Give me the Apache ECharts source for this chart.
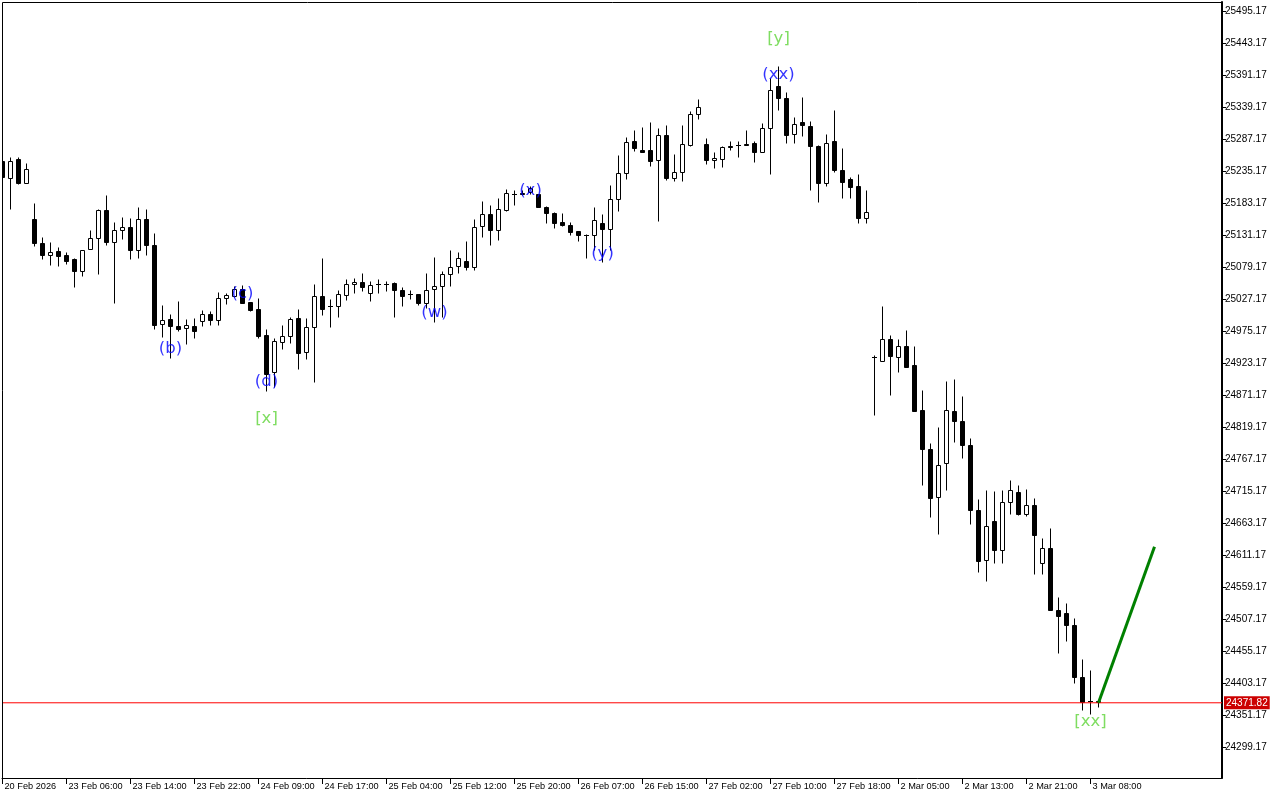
<!DOCTYPE html>
<html><head><meta charset="utf-8">
<script src="https://cdn.jsdelivr.net/npm/echarts@6/dist/echarts.min.js"></script>
<style>html,body{margin:0;padding:0;background:#fff}#c{width:1280px;height:800px}</style>
</head><body><div id="c"></div>
<script>
// ---- data (hourly candles, index 0 = first visible bar) ----
const opens = [25251.1,25224.1,25253.9,25216.0,25156.4,25118.5,25098.3,25104.4,25097.9,25091.4,
25072.3,25108.7,25126.6,25172.6,25120.1,25139.6,25144.5,25107.6,25156.4,25115.7,
24986.9,24993.9,24983.0,24980.4,24982.5,24992.2,25003.1,24993.4,25028.0,25031.7,
25044.2,25022.0,25011.7,24967.9,24908.2,24957.6,24967.4,24997.1,24941.4,24982.0,
25032.4,25015.5,25015.0,25033.3,25051.9,25055.1,25037.3,25051.9,25051.9,25052.4,
25042.6,25034.5,25034.5,25021.0,25043.7,25049.1,25068.1,25080.5,25089.7,25079.5,
25145.5,25166.1,25139.0,25171.5,25198.6,25199.8,25200.7,25197.0,25177.0,25167.2,
25152.0,25148.2,25136.9,25130.9,25131.5,25151.2,25141.2,25190.0,25232.3,25284.7,
25270.1,25268.5,25253.4,25294.0,25224.1,25233.9,25277.1,25328.1,25279.4,25253.4,
25255.0,25276.6,25277.1,25279.4,25279.9,25266.4,25305.4,25374.1,25354.1,25295.6,
25314.5,25309.1,25276.6,25215.3,25283.6,25236.0,25221.4,25210.0,25159.1,24932.6,
24926.1,24961.4,24933.2,24951.6,24920.7,24846.0,24784.2,24705.7,24759.9,24844.4,
24829.7,24790.7,24683.5,24602.7,24666.1,24620.1,24697.0,24713.9,24678.1,24693.2,
24598.5,24622.9,24522.6,24517.2,24497.1,24413.3,24374.7,24373.5];
const highs = [25257.1,25258.2,25257.6,25247.4,25182.4,25128.7,25119.0,25110.9,25103.9,25093.0,
25107.6,25138.5,25174.2,25195.4,25152.0,25161.2,25159.6,25175.9,25173.1,25135.2,
25018.2,25003.6,25024.7,24993.9,24997.1,25008.5,25007.4,25038.9,25037.3,25049.1,
25050.7,25023.1,25029.1,24978.7,24963.0,24985.7,24997.6,25011.2,24997.1,25051.9,
25093.0,25027.7,25042.6,25060.0,25061.6,25069.7,25056.1,25060.0,25056.1,25054.5,
25046.4,25042.6,25035.6,25069.7,25096.2,25071.9,25107.6,25103.5,25121.1,25157.5,
25187.2,25180.7,25191.6,25206.7,25205.1,25205.1,25210.5,25198.6,25177.5,25168.2,
25167.2,25152.6,25137.4,25132.0,25175.9,25166.1,25213.2,25260.4,25290.7,25301.0,
25307.0,25314.5,25305.4,25310.3,25263.1,25309.6,25332.3,25351.4,25289.1,25266.4,
25276.6,25283.6,25284.7,25301.5,25283.6,25312.4,25386.6,25405.5,25363.2,25323.3,
25355.1,25317.2,25278.2,25294.5,25333.5,25272.9,25225.1,25231.1,25203.5,24935.4,
25016.6,24968.4,24962.5,24977.6,24951.6,24880.1,24792.4,24818.8,24893.6,24896.4,
24869.2,24800.5,24701.4,24717.6,24714.8,24717.6,24732.7,24725.7,24719.2,24703.0,
24639.1,24655.4,24542.6,24532.4,24508.0,24441.4,24425.1,24374.0];
const lows = [25221.4,25173.8,25214.4,25216.0,25114.1,25091.4,25083.2,25081.6,25083.7,25046.4,
25064.2,25108.7,25067.0,25115.7,25019.9,25123.9,25091.4,25093.5,25097.9,24979.2,
24966.2,24932.1,24974.8,24954.4,24963.0,24983.0,24984.6,24984.6,25019.4,25030.0,
25019.9,25007.4,24963.0,24877.3,24883.4,24946.2,24954.9,24913.7,24930.0,24892.8,
25001.7,24981.3,24998.4,25025.2,25037.3,25039.9,25023.6,25037.3,25039.9,24997.6,
25015.5,25026.4,25018.2,25012.9,24989.5,24998.7,25048.0,25069.7,25074.0,25074.0,
25127.6,25115.7,25122.7,25169.9,25180.0,25195.4,25197.0,25175.9,25151.0,25142.9,
25146.6,25130.4,25122.2,25094.1,25107.6,25088.1,25107.6,25169.9,25222.5,25267.3,
25266.4,25244.1,25153.6,25220.2,25218.6,25218.6,25276.6,25318.9,25246.9,25240.4,
25241.4,25270.1,25257.6,25277.1,25249.5,25266.4,25229.5,25334.0,25281.0,25281.0,
25291.7,25204.0,25184.5,25211.6,25233.2,25190.5,25191.6,25151.0,25149.9,24837.9,
24926.1,24870.4,24908.2,24916.3,24844.4,24725.7,24672.6,24645.6,24717.6,24794.5,
24769.1,24661.9,24583.2,24568.6,24597.4,24597.4,24678.1,24675.4,24674.2,24581.1,
24580.6,24521.0,24452.2,24472.2,24403.5,24359.0,24353.1,24364.5];
const closes = [25225.1,25252.2,25214.9,25238.7,25117.4,25098.3,25103.9,25096.7,25088.6,25072.3,
25107.6,25126.6,25172.6,25119.5,25140.1,25144.5,25106.5,25156.4,25115.7,24985.7,
24993.4,24983.0,24978.7,24984.6,24974.8,25003.1,24993.4,25028.0,25032.9,25044.2,
25021.0,25010.1,24966.7,24904.5,24959.7,24966.7,24995.0,24939.7,24982.0,25032.4,
25011.2,25015.5,25035.6,25051.9,25055.1,25046.4,25049.6,25051.9,25051.9,25041.5,
25031.7,25034.5,25019.9,25041.0,25049.1,25068.6,25079.5,25094.1,25079.2,25144.5,
25164.5,25139.0,25173.8,25199.8,25198.6,25197.5,25207.9,25177.0,25167.2,25151.0,
25148.2,25136.4,25130.4,25130.9,25155.5,25141.2,25190.0,25232.3,25282.6,25272.9,
25266.4,25251.1,25294.0,25224.1,25233.9,25279.4,25328.6,25339.5,25253.4,25256.6,
25274.5,25273.8,25277.1,25277.1,25265.7,25305.4,25366.0,25353.8,25293.3,25311.9,
25310.3,25275.5,25215.3,25281.0,25236.0,25217.0,25208.9,25158.5,25168.9,24932.6,
24961.4,24934.2,24951.6,24916.3,24844.8,24783.7,24704.1,24758.2,24846.0,24828.6,
24789.6,24684.0,24601.1,24659.1,24620.1,24697.6,24716.0,24677.0,24693.2,24643.3,
24622.9,24521.5,24511.6,24497.1,24412.6,24372.6,24374.7,24371.8];

const timeLabels = ['20 Feb 2026','23 Feb 06:00','23 Feb 14:00','23 Feb 22:00','24 Feb 09:00',
'24 Feb 17:00','25 Feb 04:00','25 Feb 12:00','25 Feb 20:00','26 Feb 07:00','26 Feb 15:00',
'27 Feb 02:00','27 Feb 10:00','27 Feb 18:00','2 Mar 05:00','2 Mar 13:00','2 Mar 21:00','3 Mar 08:00'];
const barsPerLabel = 8;
const priceTicks = [24299.17,24351.17,24403.17,24455.17,24507.17,24559.17,24611.17,24663.17,
24715.17,24767.17,24819.17,24871.17,24923.17,24975.17,25027.17,25079.17,25131.17,25183.17,
25235.17,25287.17,25339.17,25391.17,25443.17,25495.17];
const lastPrice = 24371.82;
const projectionIdx = [137, 144];
const projectionPrice = [24371.82, 24625.5];
const waveText = ['(b)','(c)','(d)','(w)','(x)','(y)','(xx)'];
const waveIdx = [21, 30, 33, 54, 66, 75, 97];
const wavePrice = [24946.7, 25036.1, 24893.1, 25005.2, 25203.5, 25101.1, 25392.0];
const degreeText = ['[x]','[y]','[xx]'];
const degreeIdx = [33, 97, 136];
const degreePrice = [24833.0, 25450.5, 24340.6];

// ---- chart ----
const X_MIN = -0.0625, X_MAX = 152.4375;
const candleData = opens.map((o, i) => [i, o, highs[i], lows[i], closes[i]]);
const labelPositions = timeLabels.map((t, k) => k * barsPerLabel);
const FONT = 'Liberation Sans';
const LABEL_FONT = 'DejaVu Sans';

const chart = echarts.init(document.getElementById('c'), null, {renderer: 'canvas'});
chart.setOption({
  animation: false,
  backgroundColor: '#ffffff',
  grid: {left: 2, right: 58, top: 2, bottom: 22, show: false, containLabel: false},
  xAxis: {
    type: 'value', min: X_MIN, max: X_MAX,
    axisLine: {show: true, onZero: false, lineStyle: {color: '#000', width: 1}},
    splitLine: {show: false},
    axisTick: {show: true, inside: false, customValues: labelPositions, length: 6, lineStyle: {color: '#000'}},
    axisLabel: {
      customValues: labelPositions, align: 'left', margin: 4, padding: [0, 0, 0, 2],
      color: '#000', fontSize: 9.2, fontFamily: FONT,
      formatter: v => timeLabels[Math.round(v / barsPerLabel)] || ''
    }
  },
  yAxis: {
    type: 'value', position: 'right', min: 24249.61, max: 25510.61, scale: true,
    axisLine: {show: true, onZero: false, lineStyle: {color: '#000', width: 2}},
    splitLine: {show: false},
    axisTick: {show: true, inside: false, customValues: priceTicks, length: 4, lineStyle: {color: '#000'}},
    axisLabel: {customValues: priceTicks, margin: 3, color: '#000', fontSize: 10, fontFamily: FONT,
      formatter: v => v.toFixed(2)}
  },
  graphic: [
    {type: 'line', shape: {x1: 2.5, y1: 2.5, x2: 1222, y2: 2.5}, style: {stroke: '#000', lineWidth: 1}, z: 100},
    {type: 'line', shape: {x1: 2.5, y1: 2.5, x2: 2.5, y2: 778}, style: {stroke: '#000', lineWidth: 1}, z: 100}
  ],
  series: [
    {
      type: 'custom', data: candleData, clip: true,
      encode: {x: 0, y: [1, 2, 3, 4]},
      renderItem: function (params, api) {
        const i = api.value(0), o = api.value(1), h = api.value(2), l = api.value(3), c = api.value(4);
        const pO = api.coord([i, o]), pC = api.coord([i, c]), pH = api.coord([i, h]), pL = api.coord([i, l]);
        const snap = v => Math.round(v - 0.5) + 0.5;
        const cx = snap(pO[0]);
        const yH = snap(pH[1]), yL = snap(pL[1]), yO = snap(pO[1]), yC = snap(pC[1]);
        const ch = [{type: 'line', shape: {x1: cx, y1: yH, x2: cx, y2: yL}, style: {stroke: '#000', lineWidth: 1}}];
        const top = Math.min(yO, yC), bot = Math.max(yO, yC);
        if (bot - top < 1) {
          ch.push({type: 'line', shape: {x1: cx - 2.5, y1: top, x2: cx + 2.5, y2: top}, style: {stroke: '#000', lineWidth: 1}});
        } else {
          ch.push({type: 'rect', shape: {x: cx - 2, y: top, width: 4, height: bot - top},
            style: {fill: c > o ? '#ffffff' : '#000000', stroke: '#000', lineWidth: 1}});
        }
        return {type: 'group', children: ch};
      },
      z: 2
    },
    {
      type: 'line', data: [[X_MIN, lastPrice], [X_MAX, lastPrice]],
      symbol: 'none', lineStyle: {color: '#ff0000', width: 1}, z: 3, silent: true,
      markPoint: {
        silent: true, symbol: 'rect', symbolSize: 0,
        data: [{coord: [X_MAX, lastPrice]}],
        label: {show: true, position: 'right', distance: 2, formatter: lastPrice.toFixed(2),
          backgroundColor: '#cc0000', color: '#fff', padding: [2, 2, 1, 2], fontSize: 10, fontFamily: FONT}
      }
    },
    {
      type: 'line', data: projectionIdx.map((x, k) => [x, projectionPrice[k]]),
      symbol: 'none', lineStyle: {color: '#008000', width: 3}, z: 5
    },
    {
      type: 'scatter', symbolSize: 1, itemStyle: {color: 'rgba(0,0,0,0)'}, z: 6,
      data: waveIdx.map((x, k) => [x, wavePrice[k], waveText[k]]),
      label: {show: true, position: 'inside', formatter: p => p.data[2], color: '#0000ff', fontSize: 16.5, fontFamily: LABEL_FONT}
    },
    {
      type: 'scatter', symbolSize: 1, itemStyle: {color: 'rgba(0,0,0,0)'}, z: 6,
      data: degreeIdx.map((x, k) => [x, degreePrice[k], degreeText[k]]),
      label: {show: true, position: 'inside', formatter: p => p.data[2], color: '#5fd43a', fontSize: 16.5, fontFamily: LABEL_FONT}
    }
  ]
});
</script></body></html>
